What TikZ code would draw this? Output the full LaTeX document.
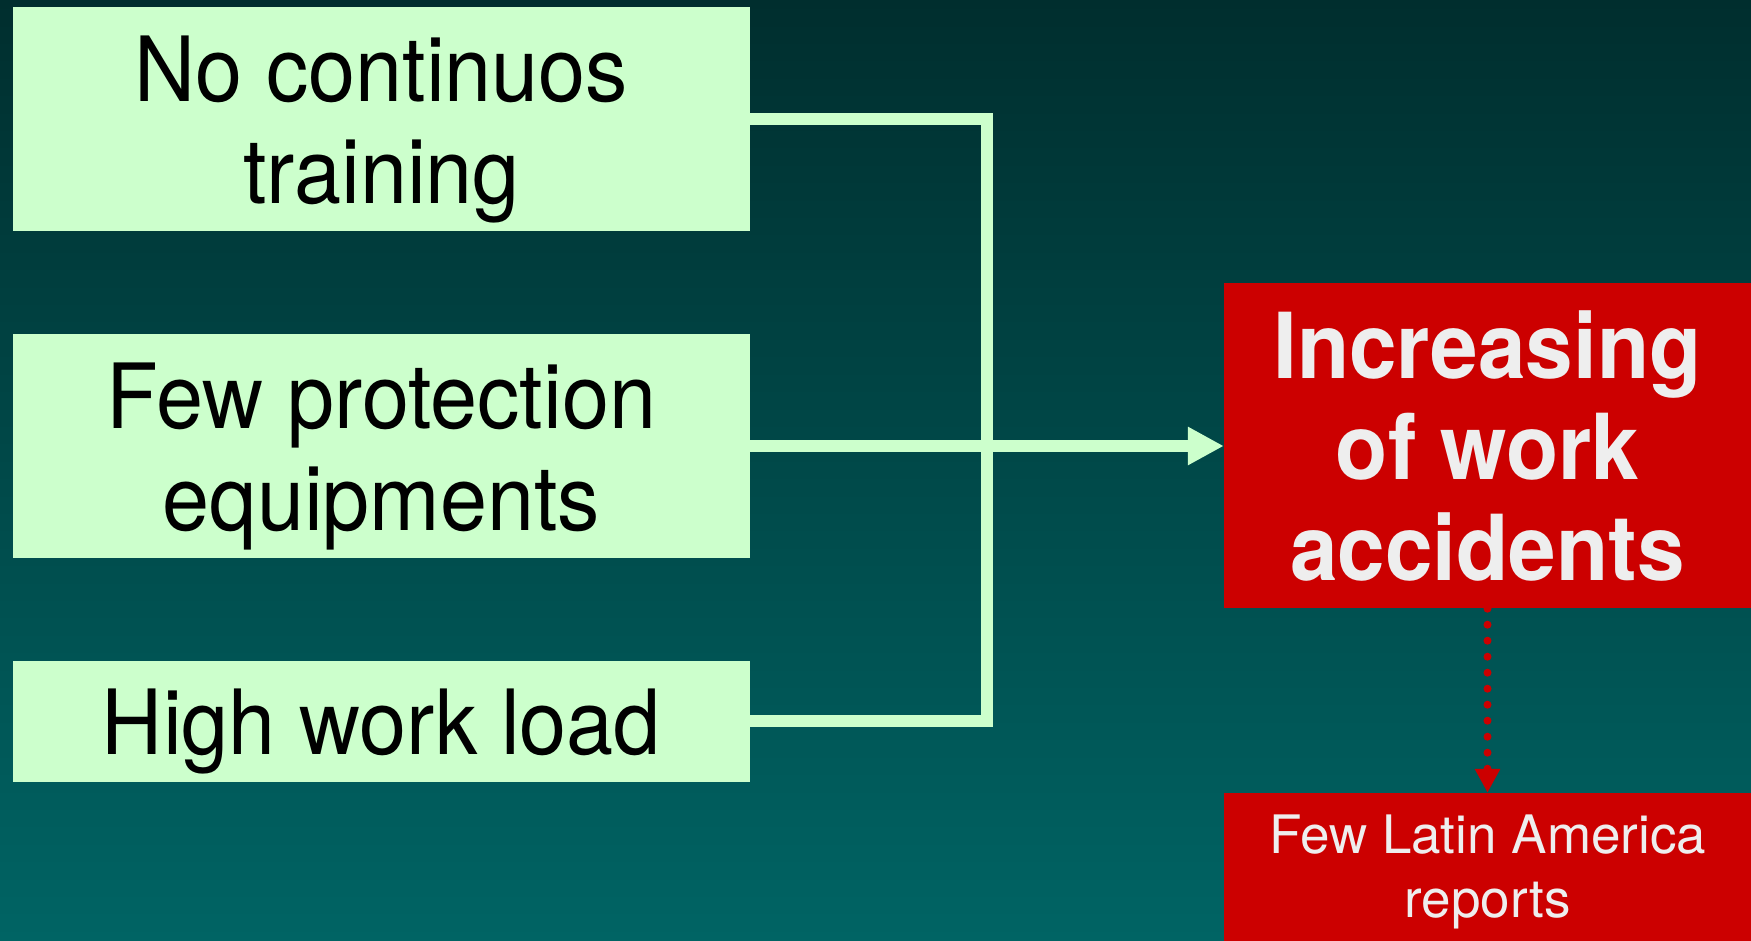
\documentclass[tikz,border=0pt]{standalone}
\usepackage{fontspec}
\setmainfont{TeX Gyre Heros}
\newfontfamily\condfont{TeX Gyre Heros}[FakeStretch=0.94]
\usepackage{tikz}
\usetikzlibrary{arrows.meta,shapes}
\definecolor{bgtop}{HTML}{002E2E}
\definecolor{bgbottom}{HTML}{006464}
\definecolor{causegreen}{HTML}{CCFFCC}
\definecolor{effectred}{HTML}{CC0000}
\definecolor{effecttext}{HTML}{EEEEEE}
\newcommand{\capstrut}{\rule{0pt}{86pt}}

\begin{document}
\begin{tikzpicture}[x=1pt, y=1pt,
    cause/.style={rectangle,fill=causegreen,inner sep=0pt,minimum width=737pt,align=center,text=black,font=\condfont\fontsize{90}{102}\selectfont},
    effect/.style={rectangle,fill=effectred,inner sep=0pt,minimum width=527pt,align=center,text=effecttext},
    link/.style={draw=causegreen,line width=12pt}]
		\shade[top color=bgtop,bottom color=bgbottom] (0, 0) rectangle (1751, 940);
		\useasboundingbox (0, 0) rectangle (1751, 940);

		\node[cause,minimum height=224pt] (training) at (381.5, 821) {\capstrut No continuos\\training};
		\node[cause,minimum height=224pt] (equip) at (381.5, 494) {\capstrut Few protection\\equipments};
		\node[cause,minimum height=121pt] (load) at (381.5, 218.5) {\capstrut High work load};

		\node[effect,minimum height=325pt,font=\condfont\bfseries\fontsize{91}{101}\selectfont] (accidents) at (1487.5, 494) {Increasing\\of work\\accidents};
		\node[effect,minimum height=158pt,font=\fontsize{53}{64}\selectfont] (reports) at (1487.5, 68) {Few Latin America\\reports};

		\coordinate (bus) at (987, 494);
		\draw [link] (training.east) -| (bus) |- (load.east);
		\draw [link,-{Triangle[length=36pt,width=36pt]}] (equip.east) -- (accidents.west);
		\draw [draw=effectred,line width=8pt,line cap=round,dash pattern=on 0pt off 16pt,-{Triangle[length=24pt,width=24pt,line cap=butt]}] (accidents.south) -- (reports.north);

\end{tikzpicture}
\end{document}
